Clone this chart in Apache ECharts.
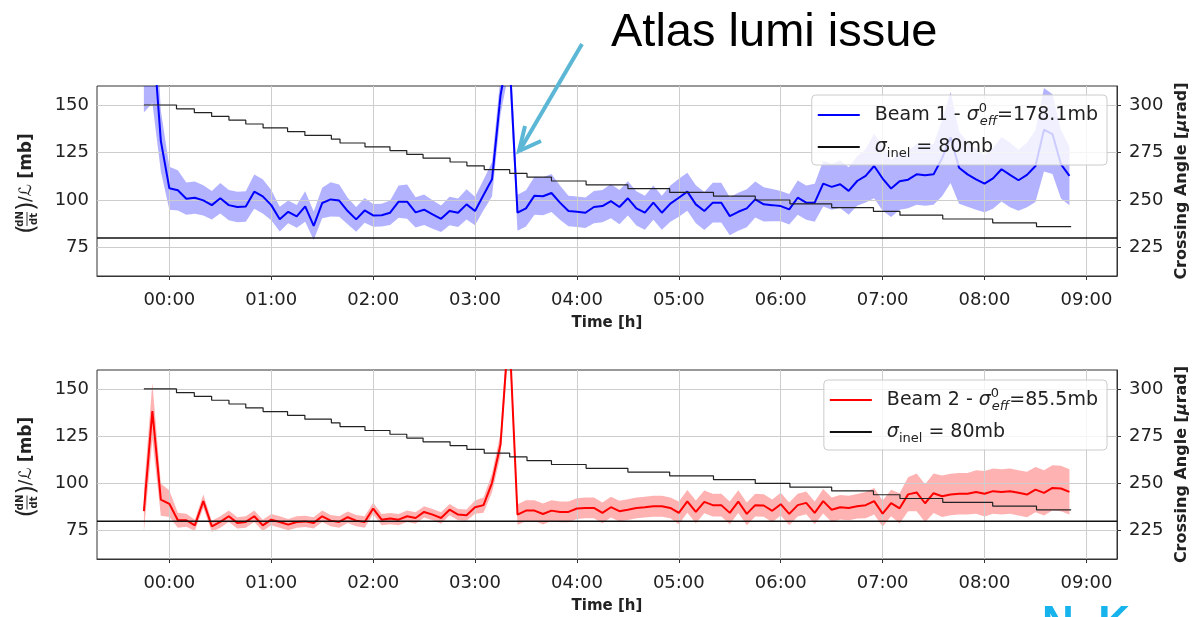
<!DOCTYPE html>
<html>
<head>
<meta charset="utf-8">
<script src="https://cdn.jsdelivr.net/npm/echarts@6/dist/echarts.min.js"></script>
<style>
    html, body { margin: 0; padding: 0; background: #fff; }
    #chart { width: 1192px; height: 617px; }
</style>
</head>
<body>
<div id="chart"></div>
<script>
// one sample every 5 minutes, first sample at 23:45 (-0.25 h)
const sampleStartH = -0.25;
const sampleStepH = 5 / 60;

// beam 1: (dN/dt)/L [mb] and its uncertainty
const beam1Values = [
    230, 191, 131, 106.2, 105.1, 100.7, 101.2, 99.8, 97.3, 100.9,
    97.3, 96.3, 96.6, 104.4, 101.9, 97.3, 89.9, 93.8, 91.4, 96.6,
    86.4, 98.4, 100.3, 99.7, 94.2, 89.8, 94.5, 91.9, 92.0, 93.3,
    99.1, 99.1, 93.5, 94.9, 92.4, 90.1, 94.2, 93.3, 97.7, 94.2,
    102.6, 110.9, 155, 180, 93.3, 95.6, 102.3, 102.0, 103.7, 98.6,
    94.2, 93.8, 93.3, 96.3, 96.8, 99.4, 96.3, 100.9, 95.6, 93.3,
    98.6, 93.3, 98.1, 101.2, 104.4, 97.7, 94.2, 98.6, 98.6, 91.5,
    93.8, 95.6, 100.3, 97.7, 97.3, 96.8, 95.1, 101.2, 98.6, 98.6,
    108.6, 106.9, 108.3, 104.8, 110.0, 112.7, 117.9, 111.3, 106.0, 109.9,
    110.7, 113.5, 113.0, 113.5, 122, 133, 117, 113.5, 110.9, 108.6,
    111.4, 116.2, 113.2, 110.4, 113.2, 117.9, 137, 134.7, 118.8, 112.7
];
const beam1Errors = [
    84, 40, 16, 11.3, 10.6, 8.5, 8.5, 8, 7.5, 8,
    8, 8, 8, 9, 9, 8, 6.5, 6, 6, 8,
    7.5, 8, 9, 8.5, 7, 6.5, 6.5, 6, 6, 6.5,
    8.5, 9, 8, 8, 7.5, 7, 7.5, 7.5, 8, 7.5,
    8, 9, 10, 12, 9.5, 9.5, 10, 10, 10, 9,
    8, 8, 8, 8.5, 8.5, 9, 9, 9, 9, 9,
    9, 9, 9.5, 10, 10, 10, 10, 10.5, 10.5, 10,
    10, 10, 9.5, 9, 8.5, 8, 8, 9, 9, 10,
    12, 12, 12.5, 12.5, 13, 14, 17, 17, 15, 15,
    15, 16, 16, 16, 20, 24, 19, 17, 16, 15,
    16, 17, 17, 16, 17, 19, 22, 21, 18, 15.5
];

// beam 2
const beam2Values = [
    85.3, 138.3, 91.4, 89.2, 80.5, 80.5, 77.8, 90.6, 77.3, 79.6,
    82.6, 79.1, 79.6, 82.6, 77.8, 80.8, 79.6, 78.2, 79.6, 79.9,
    79.1, 82.6, 80.3, 79.6, 82.1, 80.3, 79.6, 86.7, 80.8, 81.4,
    80.8, 82.6, 81.7, 84.9, 83.5, 81.7, 86.1, 83.5, 83.2, 87.4,
    88.5, 100.3, 120.6, 184, 83.5, 85.6, 85.6, 83.8, 85.6, 84.9,
    84.9, 86.7, 87.0, 87.0, 84.4, 87.4, 85.3, 86.1, 87.0, 87.4,
    87.9, 87.9, 87.0, 84.4, 90.5, 84.9, 90.2, 88.5, 88.5, 84.4,
    90.4, 83.9, 88.5, 88.3, 85.5, 89.0, 83.9, 88.5, 89.7, 84.4,
    90.6, 86.1, 87.4, 87.0, 87.9, 88.5, 90.6, 84.0, 89.6, 86.8,
    94.2, 95.2, 89.5, 94.8, 93.2, 94.1, 94.5, 94.5, 95.5, 94.5,
    95.9, 95.5, 95.9, 95.0, 94.1, 96.7, 95.0, 97.6, 97.3, 95.5
];
const beam2Errors = [
    11, 15, 8.5, 7, 4, 3.5, 3, 3.5, 3, 3,
    3, 3, 3, 3, 3, 3, 3, 3, 3, 3,
    3, 3, 3, 3, 3, 3, 3, 3, 3, 3,
    3, 3, 3, 3, 3, 3, 3, 3, 3, 3.5,
    4, 5, 6, 8, 5.5, 5.5, 5.5, 5.5, 5.5, 5.5,
    5.5, 5.5, 5.5, 5.5, 5.5, 5.5, 5.5, 5.5, 5.5, 5.5,
    5.5, 5.5, 5.5, 6, 6, 6, 6, 6, 6, 6,
    6, 6, 6, 6, 6, 6, 6, 6, 6, 6,
    6.5, 6.5, 6.5, 6.5, 6.5, 7, 7, 7, 7, 8,
    9, 10, 10, 10.5, 11, 11, 11, 11, 11.5, 12,
    12, 12, 12, 12, 12, 12, 12, 12, 12, 12
];

// crossing angle [urad], value holds from each time to the next
const angleTimes = [
    -0.25, 0.07, 0.245, 0.415, 0.585, 0.75, 0.92, 1.16, 1.33, 1.59,
    1.675, 1.92, 2.165, 2.33, 2.49, 2.755, 2.92, 3.09, 3.34, 3.51,
    3.75, 4.09, 4.50, 4.91, 5.34, 5.75, 6.09, 6.50, 6.91, 7.17,
    7.59, 8.08, 8.51, 8.85
];
const angleValues = [
    300, 298, 296, 294, 292, 290, 288, 286, 284, 282,
    280, 278, 276, 274, 272, 270, 268, 266, 264, 262,
    260, 258, 256, 254, 252, 250, 248, 246, 244, 242,
    240, 238, 236, 236
];

const sigmaInel = 80;
const timeTicks = [0, 1, 2, 3, 4, 5, 6, 7, 8, 9];
const timeTickLabels = ['00:00', '01:00', '02:00', '03:00', '04:00', '05:00', '06:00', '07:00', '08:00', '09:00'];
const rateTicks = [75, 100, 125, 150];
const angleTicks = [225, 250, 275, 300];

const FONT = 'DejaVu Sans';
const X_MIN = -0.71, X_MAX = 9.3;
const TEXT = '#222';
const FRAME = '#333';

let sampleTime = function (i) {
    return sampleStartH + i * sampleStepH;
};

// 两个子图的配置
let panels = [
    { values: beam1Values, errors: beam1Errors, name: 'Beam 1', color: '#0000ff', band: 'rgba(0,0,255,0.3)',
      legendText: 'Beam 1 - {it|σ}{sup|0}{sub|eff}=178.1mb', top: 86, height: 190, legendTop: 95 },
    { values: beam2Values, errors: beam2Errors, name: 'Beam 2', color: '#ff0000', band: 'rgba(255,0,0,0.3)',
      legendText: 'Beam 2 - {it|σ}{sup|0}{sub|eff}=85.5mb', top: 370, height: 189, legendTop: 380 }
];

let tickFont = { fontSize: 18, fontFamily: FONT, color: TEXT };

let legendRich = {
    it: { fontSize: 19, fontFamily: FONT, fontStyle: 'italic', color: TEXT, lineHeight: 26 },
    sup: { fontSize: 13, fontFamily: FONT, color: TEXT, lineHeight: 13, verticalAlign: 'top', width: 1 },
    sub: { fontSize: 13, fontFamily: FONT, fontStyle: 'italic', color: TEXT, lineHeight: 13, verticalAlign: 'bottom' },
    subr: { fontSize: 13, fontFamily: FONT, color: TEXT, lineHeight: 13, verticalAlign: 'bottom' }
};

let grids = [], xAxes = [], yAxes = [], series = [], legends = [], graphics = [];

panels.forEach(function (p, k) {
    grids.push({
        left: 97, right: 75, top: p.top, height: p.height,
        containLabel: false, outerBoundsMode: 'none',
        show: true, borderColor: FRAME, borderWidth: 1
    });

    xAxes.push({
        type: 'value', gridIndex: k, min: X_MIN, max: X_MAX,
        name: 'Time [h]', nameLocation: 'middle', nameGap: 40,
        nameTextStyle: { fontSize: 15, fontWeight: 'bold', fontFamily: FONT, color: TEXT },
        axisLine: { show: true, onZero: false, lineStyle: { color: FRAME, width: 1 } },
        axisTick: { show: true, length: 4, customValues: timeTicks, lineStyle: { color: FRAME } },
        axisLabel: Object.assign({
            customValues: timeTicks, margin: 15,
            formatter: function (v) { return timeTickLabels[timeTicks.indexOf(v)]; }
        }, tickFont),
        splitLine: { show: false }
    });

    yAxes.push({
        type: 'value', gridIndex: k, position: 'left', min: 60, max: 160,
        axisLine: { show: true, lineStyle: { color: FRAME, width: 1 } },
        axisTick: { show: true, length: 4, customValues: rateTicks, lineStyle: { color: FRAME } },
        axisLabel: Object.assign({ customValues: rateTicks, margin: 8 }, tickFont),
        splitLine: { show: false }
    });
    yAxes.push({
        type: 'value', gridIndex: k, position: 'right', min: 210, max: 310,
        name: 'Crossing Angle [{mu|μ}rad]', nameLocation: 'middle', nameRotate: 90, nameGap: 55,
        nameTextStyle: {
            fontSize: 16, fontWeight: 'bold', fontFamily: FONT, color: TEXT,
            rich: { mu: { fontSize: 16, fontStyle: 'italic', fontFamily: FONT, color: TEXT } }
        },
        axisLine: { show: true, lineStyle: { color: FRAME, width: 1 } },
        axisTick: { show: true, length: 4, customValues: angleTicks, lineStyle: { color: FRAME } },
        axisLabel: Object.assign({ customValues: angleTicks, margin: 12 }, tickFont),
        splitLine: { show: false }
    });

    let bandData = p.values.map(function (v, i) { return [sampleTime(i), v - p.errors[i], v + p.errors[i]]; });
    let line = p.values.map(function (v, i) { return [sampleTime(i), v]; });
    let angle = angleTimes.map(function (t, i) { return [t, angleValues[i]]; });

    // 误差带: 整条带子画成一个多边形
    series.push({
        type: 'custom', xAxisIndex: k, yAxisIndex: 2 * k, data: bandData,
        clip: true, silent: true, z: 1,
        encode: { x: 0, y: [1, 2] },
        renderItem: function (params, api) {
            if (params.dataIndex !== 0) return null;
            let upper = [], lower = [];
            bandData.forEach(function (d) {
                upper.push(api.coord([d[0], d[2]]));
                lower.unshift(api.coord([d[0], d[1]]));
            });
            return {
                type: 'polygon',
                shape: { points: upper.concat(lower) },
                style: { fill: p.band, stroke: null }
            };
        }
    });
    series.push({
        name: p.name, type: 'line', xAxisIndex: k, yAxisIndex: 2 * k, data: line,
        symbol: 'none', color: p.color, lineStyle: { color: p.color, width: 2 }, z: 3
    });
    // sigma_inel 水平线, 网格线挂在这里
    series.push({
        name: 'inel', type: 'line', xAxisIndex: k, yAxisIndex: 2 * k,
        data: [[X_MIN, sigmaInel], [X_MAX, sigmaInel]],
        symbol: 'none', color: '#111', lineStyle: { color: '#111', width: 1.6 }, z: 3,
        markLine: {
            silent: true, symbol: 'none', z: 2, animation: false,
            label: { show: false },
            lineStyle: { color: '#cdcdcd', width: 1, type: 'solid' },
            emphasis: { disabled: true },
            data: timeTicks.map(function (t) { return { xAxis: t }; })
                .concat(rateTicks.map(function (v) { return { yAxis: v }; }))
        }
    });
    series.push({
        type: 'line', xAxisIndex: k, yAxisIndex: 2 * k + 1, data: angle, step: 'end',
        symbol: 'none', lineStyle: { color: '#222', width: 1.2 }, silent: true, z: 4
    });

    legends.push({
        data: [p.name, 'inel'], orient: 'vertical', right: 85, top: p.legendTop,
        icon: 'rect', itemWidth: 42, itemHeight: 2, itemGap: 6,
        padding: [7, 9, 5, 6],
        backgroundColor: 'rgba(255,255,255,0.8)', borderColor: '#cccccc', borderWidth: 1, borderRadius: 4,
        selectedMode: false,
        formatter: function (name) {
            return name === 'inel' ? '{it|σ}{subr|inel} = 80mb' : p.legendText;
        },
        textStyle: { fontSize: 19, fontFamily: FONT, color: TEXT, lineHeight: 26, padding: [0, 0, 0, 10], rich: legendRich }
    });

    // 左侧 y 轴标题 (dN/dt)/L [mb], 旋转 90 度
    let cy = p.top + p.height / 2;
    let s = { fontFamily: FONT, fill: TEXT, verticalAlign: 'middle' };
    graphics.push({
        type: 'group', x: 27, y: cy, rotation: Math.PI / 2,
        children: [
            { type: 'text', x: -53, y: 0, style: Object.assign({ text: '(', fontSize: 25, align: 'left' }, s) },
            { type: 'text', x: -38, y: -7, style: Object.assign({ text: 'dN', fontSize: 10, fontWeight: 'bold', align: 'center' }, s) },
            { type: 'line', shape: { x1: -45, y1: 0, x2: -31, y2: 0 }, style: { stroke: TEXT, lineWidth: 0.9 } },
            { type: 'text', x: -38, y: 7, style: Object.assign({ text: 'dt', fontSize: 10, fontWeight: 'bold', align: 'center' }, s) },
            { type: 'text', x: -30, y: 0, style: Object.assign({ text: ')', fontSize: 25, align: 'left' }, s) },
            { type: 'text', x: -21, y: 0, style: Object.assign({
                text: '/{l|ℒ} {b|[mb]}', fontSize: 17, align: 'left',
                rich: {
                    l: { fontSize: 17, fontFamily: FONT, fontStyle: 'italic', fill: TEXT },
                    b: { fontSize: 17, fontFamily: FONT, fontWeight: 'bold', fill: TEXT }
                }
            }, s) }
        ]
    });
});

// 注释: 箭头 + 角落文字
graphics.push({
    type: 'polyline', shape: { points: [[582, 44], [520, 150]] },
    style: { stroke: '#5bb7d5', lineWidth: 4, fill: null }, z: 10
});
graphics.push({
    type: 'polyline', shape: { points: [[525, 126], [519, 151], [541, 141]] },
    style: { stroke: '#5bb7d5', lineWidth: 4, fill: null, lineJoin: 'miter' }, z: 10
});
graphics.push({
    type: 'text', x: 1042, y: 603,
    style: { text: 'N. K.', fontSize: 44, fontWeight: 'bold', fontFamily: 'Liberation Sans', fill: '#16b3ec' }
});

let chart = echarts.init(document.getElementById('chart'), null, { renderer: 'canvas' });
chart.setOption({
    animation: false,
    backgroundColor: '#fff',
    title: {
        text: 'Atlas lumi issue', left: 606, top: 5,
        textStyle: { fontSize: 47, fontWeight: 'normal', fontFamily: 'Liberation Sans', color: '#000' }
    },
    grid: grids,
    xAxis: xAxes,
    yAxis: yAxes,
    legend: legends,
    series: series,
    graphic: graphics
});
</script>
</body>
</html>
